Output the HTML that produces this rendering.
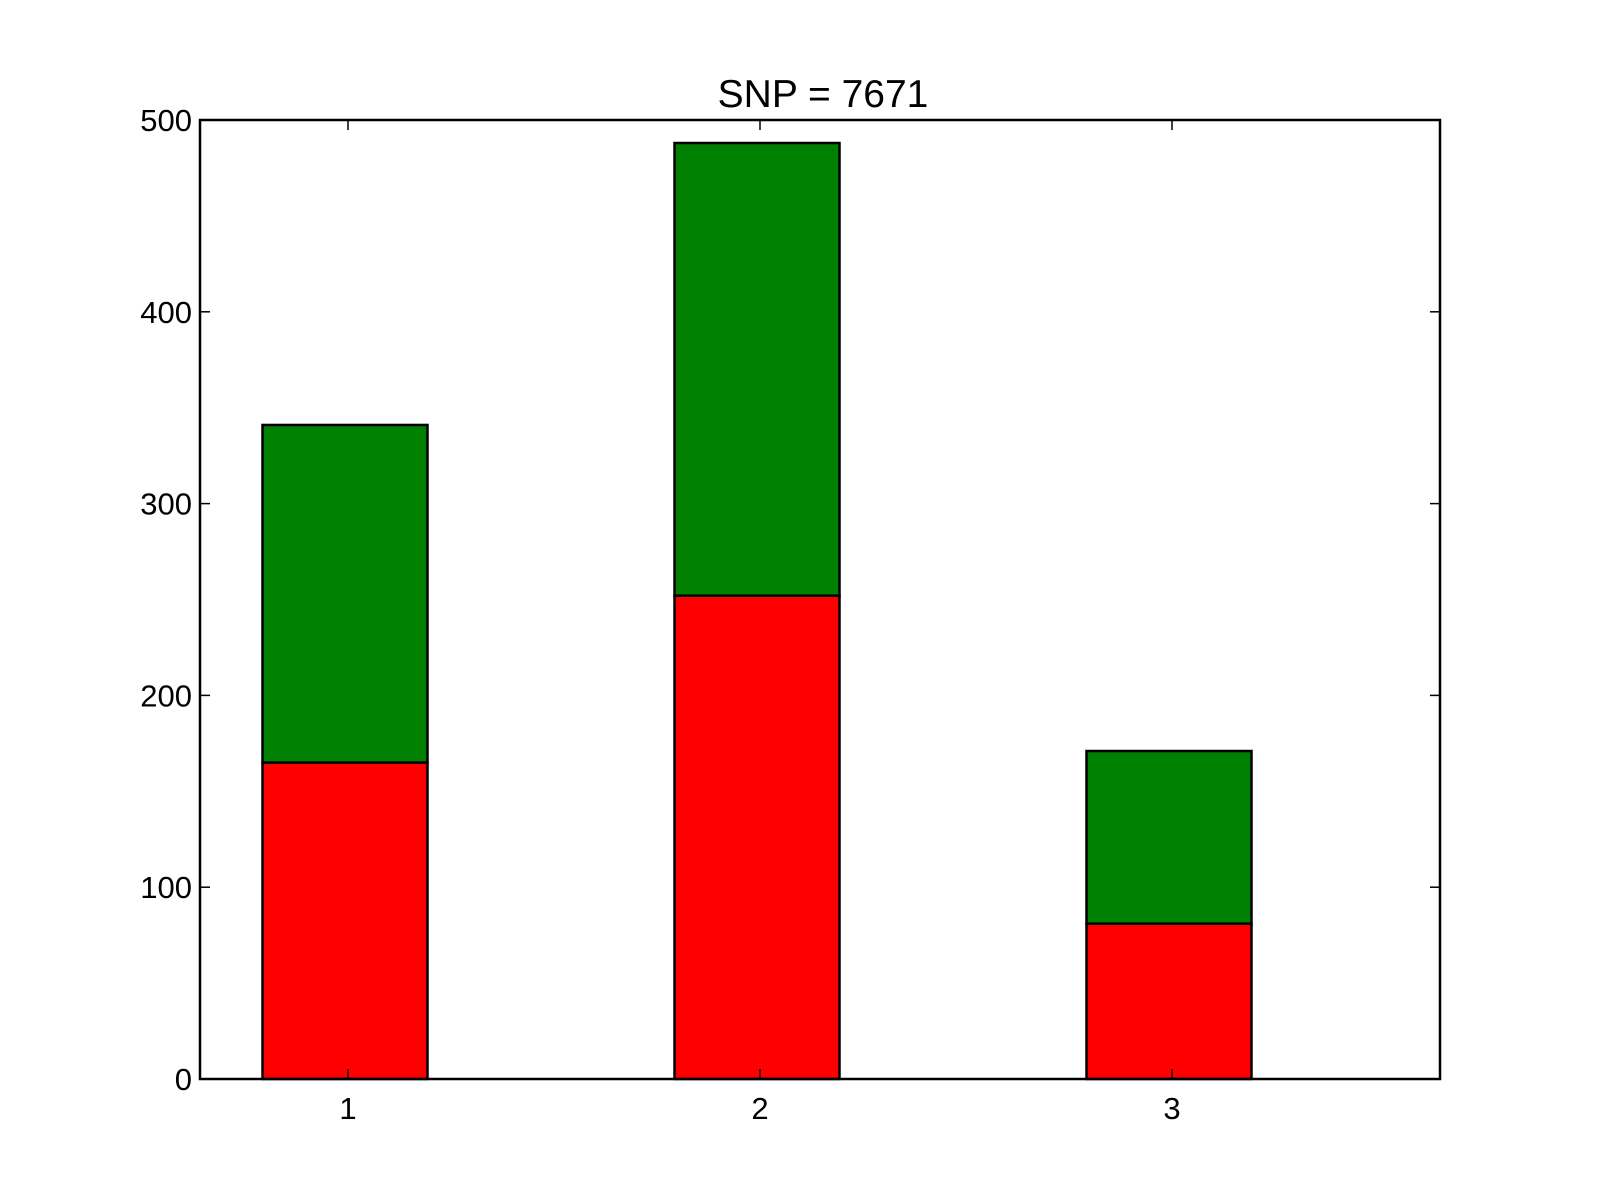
<!DOCTYPE html>
<html><head><meta charset="utf-8"><style>
html,body{margin:0;padding:0;background:#fff;}
svg{display:block;font-family:"Liberation Sans",sans-serif;}
</style></head><body>
<svg id="chart" width="1600" height="1200">
<text x="823" y="107" font-size="39" text-anchor="middle">SNP = 7671</text>
<g id="bars"></g>
<g id="ticks"></g>
<rect x="200" y="120" width="1240" height="959" fill="none" stroke="#000" stroke-width="2.5"/>
</svg>
<script>
const categories = ["1","2","3"];
const redValues = [165, 252, 81];
const greenValues = [176, 236, 90];
const yTicks = [0,100,200,300,400,500];
const NS="http://www.w3.org/2000/svg";
const L=200,R=1440,T=120,B=1079;
function y(v){return B-(v/500)*(B-T);}
function x(i){return 348+i*412;}
const bw=165;
const off=-3;
const bars=document.getElementById('bars');
const ticks=document.getElementById('ticks');
function mk(tag,attrs,parent){const e=document.createElementNS(NS,tag);for(const k in attrs)e.setAttribute(k,attrs[k]);parent.appendChild(e);return e;}
categories.forEach((c,i)=>{
  const r=redValues[i],g=greenValues[i];
  const rr=mk('rect',{x:x(i)-bw/2+off,y:y(r),width:bw,height:y(0)-y(r),fill:'#ff0000',stroke:'#000','stroke-width':2.5},bars);
  
  
  const gr=mk('rect',{x:x(i)-bw/2+off,y:y(r+g),width:bw,height:y(r)-y(r+g),fill:'#008000',stroke:'#000','stroke-width':2.5},bars);
  
  
  const t1=mk('line',{x1:x(i),x2:x(i),y1:B,y2:B-10,stroke:'#000','stroke-width':1.5},ticks);
  
  
  const t2=mk('line',{x1:x(i),x2:x(i),y1:T,y2:T+10,stroke:'#000','stroke-width':1.5},ticks);
  
  
  const lb=mk('text',{x:x(i),y:B+40,'font-size':31,'text-anchor':'middle'},ticks);
  lb.textContent=c;
  
  
});
yTicks.forEach(v=>{
  const a=mk('line',{x1:L,x2:L+10,y1:y(v),y2:y(v),stroke:'#000','stroke-width':1.5},ticks);
  
  
  const b=mk('line',{x1:R-10,x2:R,y1:y(v),y2:y(v),stroke:'#000','stroke-width':1.5},ticks);
  
  
  const t=mk('text',{x:L-8,y:y(v)+11,'font-size':31,'text-anchor':'end'},ticks);
  t.textContent=v;
  
  
});
</script>
</body></html>
